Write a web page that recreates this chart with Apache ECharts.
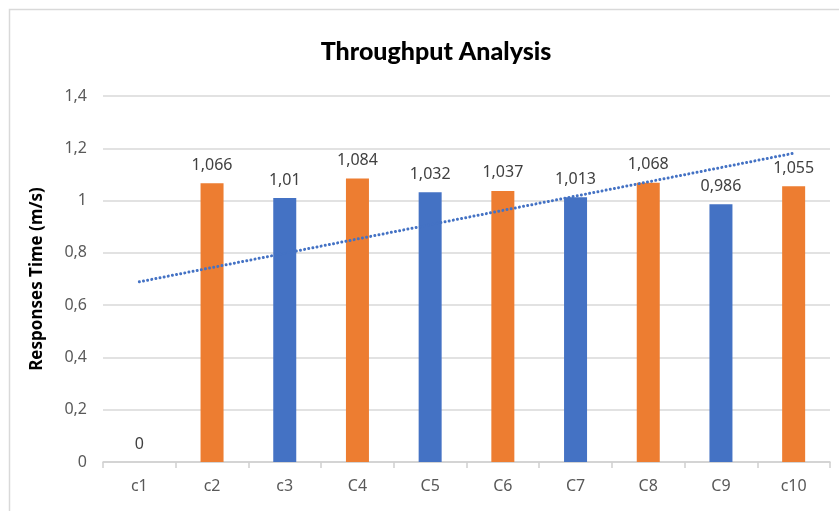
<!DOCTYPE html>
<html>
<head>
<meta charset="utf-8">
<script src="https://cdn.jsdelivr.net/npm/echarts@6/dist/echarts.min.js"></script>
<style>
  html, body { margin: 0; padding: 0; background: #fff; }
  #chart { width: 839px; height: 511px; }
</style>
</head>
<body>
<div id="chart"></div>
<script>
// Throughput per configuration
const categories = ['c1', 'c2', 'c3', 'C4', 'C5', 'C6', 'C7', 'C8', 'C9', 'c10'];
const responseTimes = [0, 1.066, 1.01, 1.084, 1.032, 1.037, 1.013, 1.068, 0.986, 1.055];
const yTicks = [0, 0.2, 0.4, 0.6, 0.8, 1, 1.2, 1.4];

const BLUE = '#4472C4';
const ORANGE = '#ED7D31';
const LABEL_FONT = '"Noto Sans", "Open Sans", sans-serif';

// Comma as decimal separator
const fmt = v => String(v).replace('.', ',');

// Least-squares linear trend over the bar values (x = 1..n)
function linearTrend(values) {
  const n = values.length;
  let sx = 0, sy = 0, sxx = 0, sxy = 0;
  values.forEach((y, i) => {
    const x = i + 1;
    sx += x; sy += y; sxx += x * x; sxy += x * y;
  });
  const slope = (n * sxy - sx * sy) / (n * sxx - sx * sx);
  const intercept = (sy - slope * sx) / n;
  return values.map((_, i) => intercept + slope * (i + 1));
}
const trend = linearTrend(responseTimes);

const chart = echarts.init(document.getElementById('chart'), null, { renderer: 'canvas' });

chart.setOption({
  animation: false,
  backgroundColor: '#ffffff',
  title: {
    text: 'Throughput Analysis',
    left: 431,
    textAlign: 'center',
    top: 34,
    textStyle: {
      fontFamily: 'Lato',
      fontWeight: 900,
      fontSize: 25,
      color: '#000000'
    }
  },
  graphic: [{
    type: 'rect',
    shape: { x: 9.5, y: 9.5, width: 900, height: 600 },
    style: { fill: 'none', stroke: '#d9d9d9', lineWidth: 1.5 },
    silent: true
  }],
  grid: { left: 103, right: 9, top: 96, bottom: 49 },
  xAxis: {
    type: 'category',
    data: categories,
    axisLine: { lineStyle: { color: '#d0d0d0', width: 1.5 } },
    axisTick: { show: true, alignWithLabel: false, length: 6, lineStyle: { color: '#d0d0d0', width: 1.5 } },
    axisLabel: {
      color: '#595959',
      fontFamily: LABEL_FONT,
      fontSize: 16,
      margin: 16
    }
  },
  yAxis: {
    type: 'value',
    min: 0,
    max: 1.4,
    interval: 0.2,
    name: 'Responses Time (m/s)',
    nameLocation: 'middle',
    nameGap: 57,
    nameTextStyle: {
      fontFamily: LABEL_FONT,
      fontWeight: 'bold',
      fontSize: 17,
      color: '#000000'
    },
    axisLine: { show: false },
    axisTick: { show: false },
    splitLine: { lineStyle: { color: '#d9d9d9', width: 1.5 } },
    axisLabel: {
      color: '#595959',
      fontFamily: LABEL_FONT,
      fontSize: 16,
      margin: 16,
      formatter: v => {
        const t = yTicks.find(k => Math.abs(k - v) < 1e-9);
        return fmt(Math.round((t !== undefined ? t : v) * 10) / 10);
      }
    }
  },
  series: [
    {
      type: 'bar',
      barWidth: 23,
      data: responseTimes.map((v, i) => ({
        value: v,
        itemStyle: { color: i % 2 === 1 ? ORANGE : BLUE }
      })),
      label: {
        show: true,
        position: 'top',
        distance: 10,
        color: '#404040',
        fontFamily: LABEL_FONT,
        fontSize: 16,
        formatter: p => fmt(p.value)
      },
      z: 2
    },
    {
      type: 'line',
      data: trend,
      symbol: 'none',
      smooth: false,
      lineStyle: { color: BLUE, width: 3, type: [0.01, 4.2], cap: 'round' },
      z: 3,
      silent: true
    }
  ]
});
</script>
</body>
</html>
